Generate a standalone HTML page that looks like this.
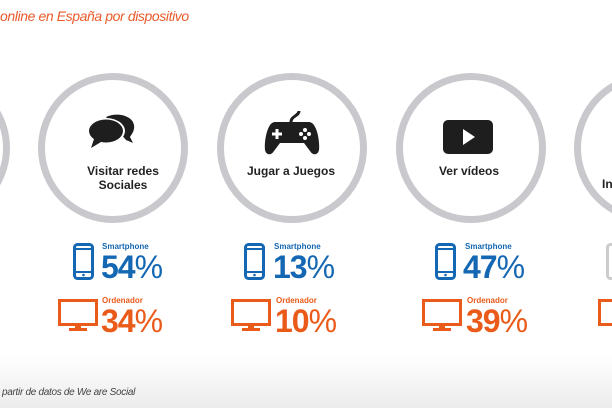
<!DOCTYPE html>
<html><head><meta charset="utf-8"><style>
body{margin:0;width:612px;height:408px;overflow:hidden;background:#fff;position:relative;font-family:"Liberation Sans",sans-serif}
.a{position:absolute}
.c{position:absolute;width:136px;height:136px;border:7px solid #c9c8cc;border-radius:50%;top:73px}
.lab{position:absolute;font-weight:bold;font-size:12px;color:#222;text-align:center;width:150px;line-height:14px}
.sm{position:absolute;font-size:8px;font-weight:bold}
.pct{position:absolute;font-size:32px;line-height:32px;letter-spacing:-1px;font-weight:bold}
.pct span{font-weight:normal}
.b{color:#1467b3}.o{color:#ea5b1a}
</style></head><body>
<div class="a" style="left:0;top:8px;font-size:14px;font-style:italic;color:#ea5b2a;letter-spacing:-0.4px">online en España por dispositivo</div>
<div class="a" style="left:0;top:355px;width:612px;height:53px;background:linear-gradient(#fff,#ececec)"></div>
<div class="a" style="left:2px;top:387px;font-size:10px;font-style:italic;color:#444;letter-spacing:-0.3px">partir de datos de We are Social</div>

<div class="c" style="left:-140px"></div>
<div class="c" style="left:38px"></div>
<div class="c" style="left:217px"></div>
<div class="c" style="left:396px"></div>
<div class="c" style="left:574px"></div>

<svg class="a" style="left:86px;top:113px" width="52" height="42" viewBox="0 0 52 42">
<path d="M20 4c10-5 26-2 28 8 1 6-3 10-4 12l3 6-7-3z" fill="#1e1e1e"/>
<ellipse cx="20" cy="18" rx="19" ry="13" fill="#fff"/>
<ellipse cx="20" cy="18" rx="17" ry="11.5" fill="#1e1e1e"/>
<path d="M8 26l-3 9 10-6z" fill="#1e1e1e"/></svg>
<svg class="a" style="left:263px;top:110px" width="58" height="45" viewBox="0 0 58 45">
<path d="M28 12c0-6 8-6 8-11" stroke="#1e1e1e" stroke-width="3" fill="none"/>
<path d="M12 12h34c8 0 11 20 10 28-1 5-6 6-9 1l-6-8H17l-6 8c-3 5-8 4-9-1C1 32 4 12 12 12z" fill="#1e1e1e"/>
<path d="M9 24h10M14 19v10" stroke="#fff" stroke-width="3"/>
<circle cx="42" cy="20" r="2" fill="#fff"/><circle cx="42" cy="28" r="2" fill="#fff"/><circle cx="38" cy="24" r="2" fill="#fff"/><circle cx="46" cy="24" r="2" fill="#fff"/></svg>
<svg class="a" style="left:443px;top:120px" width="50" height="34"><rect width="50" height="34" rx="5" fill="#1e1e1e"/><path d="M20 9l12 8-12 8z" fill="#fff"/></svg>

<div class="lab" style="left:48px;top:164px">Visitar redes<br>Sociales</div>
<div class="lab" style="left:216px;top:164px">Jugar a Juegos</div>
<div class="lab" style="left:394px;top:164px">Ver vídeos</div>
<div class="lab" style="left:575px;top:177px;text-align:left;width:40px;padding-left:27px">In</div>

<svg class="a" style="left:73px;top:243px" width="21" height="37"><rect x="1.5" y="1.5" width="18" height="34" rx="3" fill="none" stroke="#1467b3" stroke-width="3"/><rect x="1.5" y="5" width="18" height="2" fill="#1467b3"/><rect x="1.5" y="28" width="18" height="2" fill="#1467b3"/><circle cx="10.5" cy="32" r="1.3" fill="#1467b3"/></svg>
<svg class="a" style="left:244px;top:243px" width="21" height="37"><rect x="1.5" y="1.5" width="18" height="34" rx="3" fill="none" stroke="#1467b3" stroke-width="3"/><rect x="1.5" y="5" width="18" height="2" fill="#1467b3"/><rect x="1.5" y="28" width="18" height="2" fill="#1467b3"/><circle cx="10.5" cy="32" r="1.3" fill="#1467b3"/></svg>
<svg class="a" style="left:435px;top:243px" width="21" height="37"><rect x="1.5" y="1.5" width="18" height="34" rx="3" fill="none" stroke="#1467b3" stroke-width="3"/><rect x="1.5" y="5" width="18" height="2" fill="#1467b3"/><rect x="1.5" y="28" width="18" height="2" fill="#1467b3"/><circle cx="10.5" cy="32" r="1.3" fill="#1467b3"/></svg>
<svg class="a" style="left:58px;top:299px" width="40" height="33"><rect x="1.5" y="1.5" width="37" height="24" fill="none" stroke="#ea5b1a" stroke-width="3"/><rect x="17" y="25" width="6" height="5" fill="#ea5b1a"/><rect x="11" y="29" width="18" height="3" fill="#ea5b1a"/></svg>
<svg class="a" style="left:231px;top:299px" width="40" height="33"><rect x="1.5" y="1.5" width="37" height="24" fill="none" stroke="#ea5b1a" stroke-width="3"/><rect x="17" y="25" width="6" height="5" fill="#ea5b1a"/><rect x="11" y="29" width="18" height="3" fill="#ea5b1a"/></svg>
<svg class="a" style="left:422px;top:299px" width="40" height="33"><rect x="1.5" y="1.5" width="37" height="24" fill="none" stroke="#ea5b1a" stroke-width="3"/><rect x="17" y="25" width="6" height="5" fill="#ea5b1a"/><rect x="11" y="29" width="18" height="3" fill="#ea5b1a"/></svg>
<svg class="a" style="left:598px;top:299px" width="20" height="33"><rect x="1.5" y="1.5" width="37" height="24" fill="none" stroke="#ea5b1a" stroke-width="3"/></svg>
<svg class="a" style="left:606px;top:243px" width="10" height="37"><rect x="1.5" y="1.5" width="18" height="34" rx="3" fill="none" stroke="#ccc" stroke-width="3"/></svg>

<div class="sm b" style="left:102px;top:242px">Smartphone</div><div class="pct b" style="left:101px;top:251px">54<span>%</span></div>
<div class="sm o" style="left:102px;top:296px">Ordenador</div><div class="pct o" style="left:101px;top:305px">34<span>%</span></div>
<div class="sm b" style="left:274px;top:242px">Smartphone</div><div class="pct b" style="left:273px;top:251px">13<span>%</span></div>
<div class="sm o" style="left:276px;top:296px">Ordenador</div><div class="pct o" style="left:275px;top:305px">10<span>%</span></div>
<div class="sm b" style="left:465px;top:242px">Smartphone</div><div class="pct b" style="left:463px;top:251px">47<span>%</span></div>
<div class="sm o" style="left:467px;top:296px">Ordenador</div><div class="pct o" style="left:466px;top:305px">39<span>%</span></div>
</body></html>
